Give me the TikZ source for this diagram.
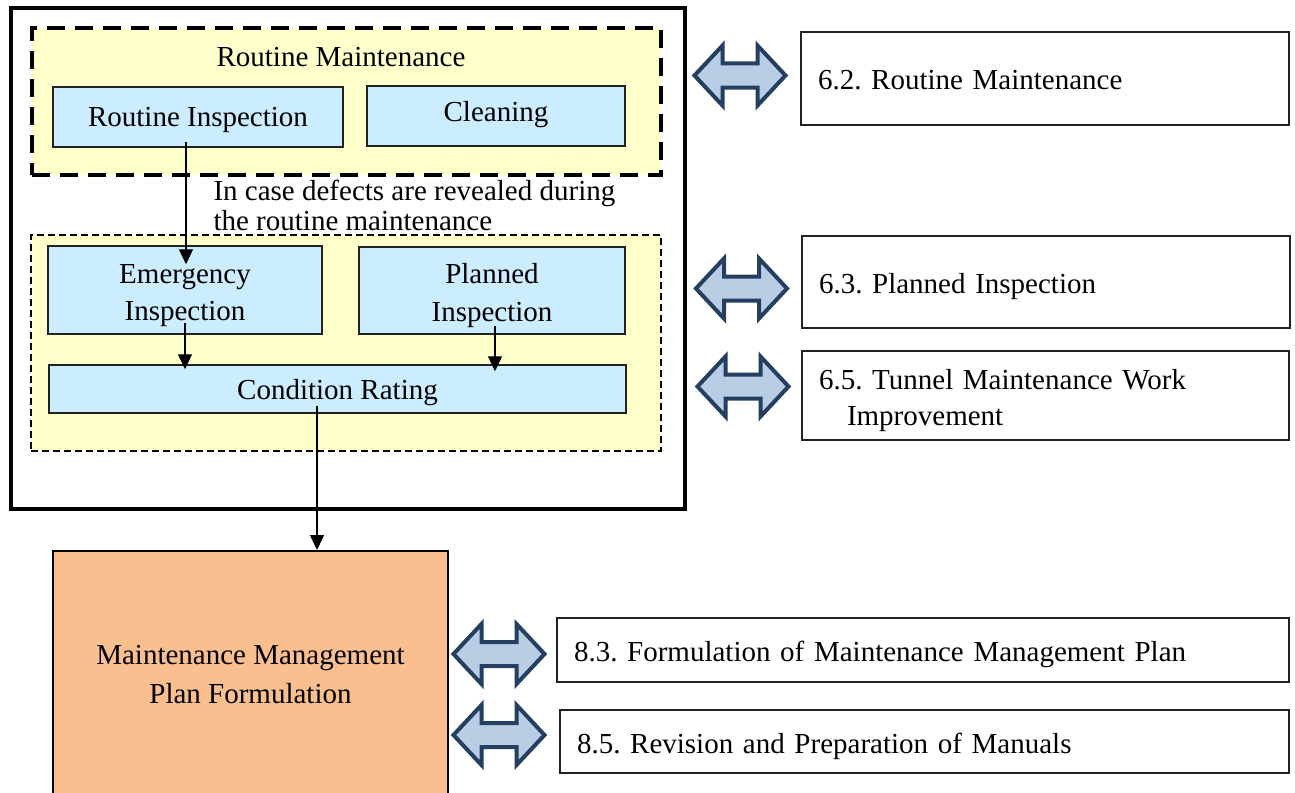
\documentclass[tikz,border=0pt]{standalone}
\usepackage{fontspec}
\setmainfont{Liberation Serif}
\frenchspacing
\usetikzlibrary{arrows.meta,calc}

\definecolor{groupyellow}{HTML}{FFFFCC}
\definecolor{boxblue}{HTML}{CCECFF}
\definecolor{planpeach}{HTML}{FABF8F}
\definecolor{arrowfill}{HTML}{B9CDE5}
\definecolor{arrowedge}{HTML}{243F60}
\definecolor{edgegrey}{HTML}{222222}

% invisible strut that lowers the text of a node a little
\newcommand\lowerby[1]{\rule{0pt}{\dimexpr20pt+2\dimexpr#1\relax\relax}}

\tikzset{
  txt/.style={font=\fontsize{29}{36}\selectfont},
  nodepth/.style={text depth=0pt},
  group/.style={fill=groupyellow, inner sep=0pt},
  stepbox/.style={txt, draw=edgegrey, line width=1.5pt, fill=boxblue, inner sep=0pt, align=center},
  refbox/.style={txt, draw=edgegrey, line width=1.8pt, fill=white, inner ysep=0pt, inner xsep=17pt, align=left},
  flow/.style={line width=1.4pt, -{Triangle[width=14pt,length=15pt]}},
  arrowline/.style={draw=arrowedge, fill=arrowfill, line width=4pt, line join=miter},
  dblarrow/.pic={
    \path[arrowline] (-45.5,0) -- (-17.5,-30) -- (-17.5,-12) -- (17.5,-12) -- (17.5,-30)
      -- (45.5,0) -- (17.5,30) -- (17.5,12) -- (-17.5,12) -- (-17.5,30) -- cycle;
  }
}

\begin{document}
\begin{tikzpicture}[x=1pt, y=-1pt]
\useasboundingbox (0,0) rectangle (1295,792);
\clip (0,0) rectangle (1295,792);
\fill[white] (0,0) rectangle (1295,792);

% outer frame around the inspection stages
\node[draw=black, line width=4pt, minimum width=674pt, minimum height=501pt, inner sep=0pt] (outer) at (348,258.5) {};

% routine maintenance group
\node[group, draw=black, line width=4pt, dash pattern=on 18pt off 10pt, minimum width=629pt, minimum height=147pt] (rmgroup) at (346.5,101.5) {};
\node[txt] (rmtitle) at (341,57) {Routine Maintenance};
\node[stepbox, nodepth, minimum width=290pt, minimum height=60pt] (ri) at (198,117) {Routine Inspection};
\node[stepbox, nodepth, minimum width=258pt, minimum height=60pt] (cl) at (496,116) {\raisebox{10pt}{Cleaning}};

% inspection group
\node[group, draw=black, line width=1.4pt, dash pattern=on 7pt off 4pt, minimum width=630pt, minimum height=216pt] (ingroup) at (346,343) {};
\node[stepbox, minimum width=274pt, minimum height=88pt, font=\fontsize{29}{37}\selectfont] (em) at (185,290) {\lowerby{5pt}Emergency\\Inspection};
\node[stepbox, minimum width=266pt, minimum height=87pt, font=\fontsize{29}{38}\selectfont] (pl) at (492,290.5) {\lowerby{5pt}Planned\\Inspection};
\node[stepbox, nodepth, minimum width=577pt, minimum height=48pt] (cr) at (337.5,389) {Condition Rating};

\node[txt, align=left, anchor=west, font=\fontsize{29}{30}\selectfont] (note) at (210,205) {In case defects are revealed during\\the routine maintenance};

% plan formulation
\node[txt, draw=black, line width=2pt, fill=planpeach, minimum width=395pt, minimum height=248pt, inner sep=0pt, align=center, font=\fontsize{29}{39}\selectfont] (mp) at (250.5,675) {Maintenance Management\\Plan Formulation};

% flow connectors
\coordinate (rix) at ($(ri.south)+(-12,0)$);
\draw[flow] ($(rix)+(0,-6)$) -- ($(rix |- em.north)+(0,19)$);
\draw[flow] ($(em.south)+(0,-12)$) -- ($(em.south |- cr.north)+(0,5)$);
\coordinate (plx) at ($(pl.south)+(3,0)$);
\draw[flow] ($(plx)+(0,-9)$) -- ($(plx |- cr.north)+(0,7)$);
\coordinate (crx) at ($(cr.south)+(-20.5,0)$);
\draw[flow] ($(crx)+(0,-8)$) -- (crx |- mp.north);

% reference sections
\node[refbox, minimum height=93pt, text width=454pt] (s62) at (1045,78.5) {\lowerby{1.5pt}6.2. Routine Maintenance};
\node[refbox, nodepth, minimum height=92pt, text width=454pt] (s63) at (1046,282) {\lowerby{1pt}6.3. Planned Inspection};
\node[refbox, minimum height=89pt, text width=453pt, font=\fontsize{29}{36}\selectfont] (s65) at (1045.5,395.5) {\lowerby{5pt}6.5. Tunnel Maintenance Work\\\hspace*{28pt}Improvement};
\node[refbox, nodepth, minimum height=64pt, text width=698pt] (s83) at (923,650) {\lowerby{1.5pt}8.3. Formulation of Maintenance Management Plan};
\node[refbox, nodepth, minimum height=63pt, text width=695pt] (s85) at (924.5,741.5) {\lowerby{1.5pt}8.5. Revision and Preparation of Manuals};

% two-way links to the reference sections
\pic (a62) at (740,75.5) {dblarrow};
\pic (a63) at (741.5,288.5) {dblarrow};
\pic (a65) at (743,386.5) {dblarrow};
\pic (a83) at (499,654) {dblarrow};
\pic (a85) at (499,735) {dblarrow};
\end{tikzpicture}
\end{document}
